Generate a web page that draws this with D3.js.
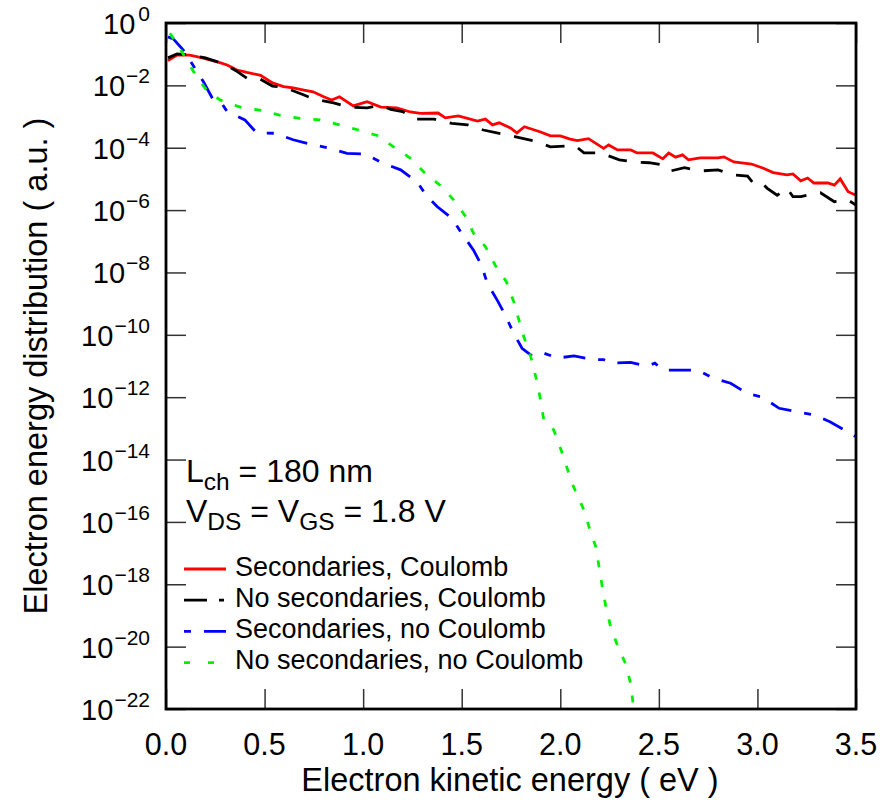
<!DOCTYPE html>
<html>
<head>
<meta charset="utf-8">
<script src="https://cdn.jsdelivr.net/npm/d3@7"></script>
<style>
  body { margin: 0; background: #fff; }
  svg { display: block; font-family: "Liberation Sans", Arial, sans-serif; }
</style>
</head>
<body>
<svg id="chart" width="882" height="804"></svg>
<script>
// energies (eV) and distribution values (a.u.)
const redE = [0.01, 0.056, 0.12, 0.173, 0.257, 0.31, 0.36, 0.41, 0.48, 0.54, 0.596, 0.645, 0.70, 0.746, 0.80, 0.84, 0.88, 0.95, 1.02, 1.09, 1.17, 1.24, 1.29, 1.38, 1.417, 1.483, 1.58, 1.62, 1.656, 1.69, 1.747, 1.78, 1.818, 1.90, 1.95, 2.0, 2.05, 2.087, 2.143, 2.22, 2.245, 2.29, 2.357, 2.39, 2.47, 2.52, 2.55, 2.585, 2.62, 2.65, 2.71, 2.80, 2.83, 2.88, 2.97, 3.03, 3.08, 3.15, 3.18, 3.22, 3.255, 3.286, 3.357, 3.39, 3.42, 3.46, 3.50];
const redV = [6.2e-2, 9.3e-2, 9.3e-2, 7.9e-2, 5.8e-2, 4.5e-2, 3.1e-2, 2.6e-2, 2.1e-2, 1.2e-2, 9.1e-3, 8.3e-3, 7.1e-3, 6.2e-3, 4.3e-3, 3.4e-3, 4.3e-3, 2.2e-3, 3.0e-3, 2.0e-3, 1.9e-3, 1.4e-3, 1.26e-3, 1.3e-3, 9.1e-4, 1.05e-3, 7.2e-4, 8.3e-4, 5.4e-4, 6.3e-4, 4.3e-4, 3.0e-4, 4.7e-4, 3.2e-4, 2.4e-4, 2.4e-4, 1.9e-4, 1.7e-4, 1.95e-4, 9.5e-5, 1.23e-4, 8.5e-5, 8.5e-5, 6.8e-5, 6.8e-5, 4.4e-5, 6.8e-5, 5.0e-5, 5.9e-5, 4.1e-5, 4.7e-5, 4.7e-5, 5.1e-5, 3.5e-5, 3.0e-5, 2.2e-5, 1.6e-5, 1.35e-5, 1.45e-5, 8.7e-6, 1.07e-5, 7.4e-6, 7.4e-6, 6.3e-6, 1.0e-5, 3.9e-6, 3.0e-6];

const blackE = [0.01, 0.056, 0.12, 0.20, 0.30, 0.36, 0.41, 0.47, 0.54, 0.60, 0.70, 0.75, 0.85, 0.93, 1.02, 1.09, 1.14, 1.20, 1.27, 1.36, 1.45, 1.53, 1.61, 1.70, 1.78, 1.86, 1.90, 1.95, 2.04, 2.08, 2.12, 2.20, 2.30, 2.37, 2.45, 2.52, 2.56, 2.63, 2.71, 2.80, 2.88, 2.95, 2.98, 3.02, 3.05, 3.10, 3.15, 3.18, 3.22, 3.255, 3.32, 3.39, 3.46, 3.50];
const blackV = [7.6e-2, 1.02e-1, 9.5e-2, 7.6e-2, 4.7e-2, 2.8e-2, 1.7e-2, 1.7e-2, 9.5e-3, 8.7e-3, 4.9e-3, 3.6e-3, 2.75e-3, 2.0e-3, 1.9e-3, 2.3e-3, 1.7e-3, 1.45e-3, 8.3e-4, 8.3e-4, 6.0e-4, 5.4e-4, 3.7e-4, 2.8e-4, 2.2e-4, 1.7e-4, 1.4e-4, 1.07e-4, 1.15e-4, 1.1e-4, 6.8e-5, 6.9e-5, 4.1e-5, 3.5e-5, 3.3e-5, 2.8e-5, 1.8e-5, 2.3e-5, 1.8e-5, 1.95e-5, 1.35e-5, 1.23e-5, 7.2e-6, 7.6e-6, 5.0e-6, 3.0e-6, 5.0e-6, 2.7e-6, 2.7e-6, 3.0e-6, 3.6e-6, 1.86e-6, 2.1e-6, 1.45e-6];

const blueE = [0.01, 0.037, 0.088, 0.147, 0.19, 0.24, 0.283, 0.31, 0.40, 0.46, 0.554, 0.645, 0.73, 0.82, 0.918, 1.01, 1.095, 1.19, 1.273, 1.32, 1.375, 1.45, 1.50, 1.56, 1.60, 1.63, 1.68, 1.72, 1.764, 1.806, 1.857, 1.916, 1.984, 2.07, 2.17, 2.22, 2.26, 2.357, 2.44, 2.48, 2.52, 2.61, 2.695, 2.78, 2.864, 2.95, 3.025, 3.11, 3.20, 3.29, 3.37, 3.457, 3.50];
const blueV = [3.6e-1, 3.1e-1, 1.35e-1, 3.5e-2, 1.3e-2, 3.4e-3, 2.6e-3, 1.45e-3, 7.8e-4, 3.0e-4, 2.9e-4, 1.8e-4, 1.3e-4, 1.0e-4, 6.6e-5, 6.3e-5, 3.3e-5, 1.95e-5, 8.1e-6, 3.0e-6, 1.3e-6, 5.5e-7, 1.8e-7, 5.2e-8, 1.7e-8, 4.5e-9, 1.3e-9, 4.4e-10, 1.1e-10, 3.7e-11, 2.1e-11, 2.6e-11, 1.8e-11, 2.1e-11, 1.6e-11, 1.6e-11, 1.23e-11, 1.3e-11, 1.0e-11, 1.23e-11, 7.4e-12, 7.4e-12, 7.4e-12, 4.0e-12, 2.8e-12, 1.3e-12, 1.0e-12, 4.4e-13, 3.4e-13, 2.7e-13, 1.6e-13, 7.8e-14, 5.4e-14];

const greenE = [0.02, 0.08, 0.14, 0.198, 0.274, 0.376, 0.477, 0.58, 0.68, 0.78, 0.88, 0.977, 1.078, 1.154, 1.24, 1.315, 1.39, 1.46, 1.52, 1.56, 1.62, 1.67, 1.727, 1.764, 1.79, 1.815, 1.85, 1.88, 1.90, 1.916, 1.967, 2.01, 2.06, 2.12, 2.153, 2.18, 2.195, 2.213, 2.23, 2.255, 2.29, 2.33, 2.357, 2.37, 2.38];
const greenV = [4.7e-1, 1.2e-1, 2.75e-2, 8.1e-3, 3.4e-3, 2.0e-3, 1.6e-3, 1.1e-3, 8.7e-4, 7.8e-4, 5.4e-4, 3.7e-4, 2.4e-4, 1.07e-4, 4.6e-5, 1.5e-5, 6.3e-6, 2.1e-6, 6.2e-7, 1.8e-7, 6.8e-8, 1.7e-8, 5.0e-9, 1.15e-9, 3.0e-10, 8.7e-11, 2.0e-11, 3.5e-12, 8.1e-13, 1.9e-13, 8.9e-14, 1.6e-14, 1.7e-15, 2.4e-16, 4.9e-17, 1.6e-17, 4.2e-18, 8.3e-19, 2.1e-19, 4.4e-20, 1.1e-20, 2.9e-21, 6.6e-22, 1.35e-22, 5e-23];

const xTicks = [0, 0.5, 1.0, 1.5, 2.0, 2.5, 3.0, 3.5];
const yExponents = [0, -2, -4, -6, -8, -10, -12, -14, -16, -18, -20, -22];

const legendLabels = ['Secondaries, Coulomb', 'No secondaries, Coulomb', 'Secondaries, no Coulomb', 'No secondaries, no Coulomb'];

const series = [
  { E: redE, V: redV, color: '#ff0000', dash: null, legendDash: null },
  { E: blackE, V: blackV, color: '#000000', dash: '19,14', legendDash: '23,12,5,12' },
  { E: blueE, V: blueV, color: '#0000ff', dash: '22,13,7,13', legendDash: '7,13,23,13' },
  { E: greenE, V: greenV, color: '#00f000', dash: '7,13', legendDash: '6,18,6,18' }
];

const pLeft = 166, pRight = 856, pTop = 23, pBottom = 709;

const svg = d3.select('#chart');

const x = d3.scaleLinear().domain([0, 3.5]).range([pLeft, pRight]);
const y = d3.scaleLog().domain([1e-22, 1]).range([pBottom, pTop]);

svg.append('clipPath').attr('id', 'plotclip')
  .append('rect')
  .attr('x', pLeft).attr('y', pTop)
  .attr('width', pRight - pLeft).attr('height', pBottom - pTop);

// ticks, pointing inwards on all four sides
const tickStyle = (g) => {
  g.select('.domain').remove();
  g.selectAll('.tick line').attr('stroke', '#333').attr('stroke-width', 1.5);
  g.selectAll('.tick text').remove();
};

svg.append('g')
  .attr('transform', `translate(0,${pBottom})`)
  .call(d3.axisBottom(x).tickValues(xTicks).tickSize(-20).tickFormat(''))
  .call(tickStyle);
svg.append('g')
  .attr('transform', `translate(0,${pTop})`)
  .call(d3.axisTop(x).tickValues(xTicks).tickSize(-20).tickFormat(''))
  .call(tickStyle);
const yTickVals = yExponents.map((e) => Math.pow(10, e));
svg.append('g')
  .attr('transform', `translate(${pLeft},0)`)
  .call(d3.axisLeft(y).tickValues(yTickVals).tickSize(-20).tickFormat(''))
  .call(tickStyle);
svg.append('g')
  .attr('transform', `translate(${pRight},0)`)
  .call(d3.axisRight(y).tickValues(yTickVals).tickSize(-20).tickFormat(''))
  .call(tickStyle);

// x tick labels
svg.append('g').selectAll('text')
  .data(xTicks)
  .join('text')
  .attr('x', (d) => x(d))
  .attr('y', 754.5)
  .attr('text-anchor', 'middle')
  .attr('font-size', 30.5)
  .text((d) => d.toFixed(1));

// y tick labels 10^n
const yl = svg.append('g').selectAll('text')
  .data(yExponents)
  .join('text')
  .attr('x', 150)
  .attr('y', (d) => y(Math.pow(10, d)) + 11)
  .attr('text-anchor', 'end')
  .attr('font-size', 29);
yl.append('tspan').text('10');
yl.append('tspan')
  .attr('font-size', 21)
  .attr('dx', (d) => (d === 0 ? 3 : 1))
  .attr('dy', -13)
  .text((d) => (d === 0 ? '0' : '\u2212' + -d));

// curves
const plot = svg.append('g').attr('clip-path', 'url(#plotclip)');
const line = d3.line()
  .x((d) => x(d[0]))
  .y((d) => y(d[1]));

series.forEach((s) => {
  plot.append('path')
    .attr('d', line(d3.zip(s.E, s.V)))
    .attr('fill', 'none')
    .attr('stroke', s.color)
    .attr('stroke-width', 2.8)
    .attr('stroke-dasharray', s.dash);
});

// frame
svg.append('rect')
  .attr('x', pLeft).attr('y', pTop)
  .attr('width', pRight - pLeft).attr('height', pBottom - pTop)
  .attr('fill', 'none')
  .attr('stroke', '#000')
  .attr('stroke-width', 2.8);

// axis titles
svg.append('text')
  .attr('x', (pLeft + pRight) / 2 - 1)
  .attr('y', 790.5)
  .attr('text-anchor', 'middle')
  .attr('font-size', 32.5)
  .text('Electron kinetic energy ( eV )');

svg.append('text')
  .attr('transform', `translate(47,${(pTop + pBottom) / 2}) rotate(-90)`)
  .attr('text-anchor', 'middle')
  .attr('font-size', 32.5)
  .text('Electron energy distribution ( a.u. )');

// device parameters
const t1 = svg.append('text').attr('x', 186).attr('y', 482).attr('font-size', 32);
t1.append('tspan').text('L');
t1.append('tspan').attr('font-size', 24.5).attr('dy', 8).text('ch');
t1.append('tspan').attr('dy', -8).text(' = 180 nm');

const t2 = svg.append('text').attr('x', 186).attr('y', 522).attr('font-size', 32);
t2.append('tspan').text('V');
t2.append('tspan').attr('font-size', 24.5).attr('dy', 8).text('DS');
t2.append('tspan').attr('dy', -8).text(' = V');
t2.append('tspan').attr('font-size', 24.5).attr('dy', 8).text('GS');
t2.append('tspan').attr('dy', -8).text(' = 1.8 V');

// legend
const legend = svg.append('g');
series.forEach((s, i) => {
  const ly = 569 + i * 31.2;
  legend.append('line')
    .attr('x1', 184).attr('x2', 226)
    .attr('y1', ly).attr('y2', ly)
    .attr('stroke', s.color)
    .attr('stroke-width', 2.8)
    .attr('stroke-dasharray', s.legendDash);
  legend.append('text')
    .attr('x', 235)
    .attr('y', ly + 6.5)
    .attr('font-size', 27)
    .text(legendLabels[i]);
});
</script>
</body>
</html>
